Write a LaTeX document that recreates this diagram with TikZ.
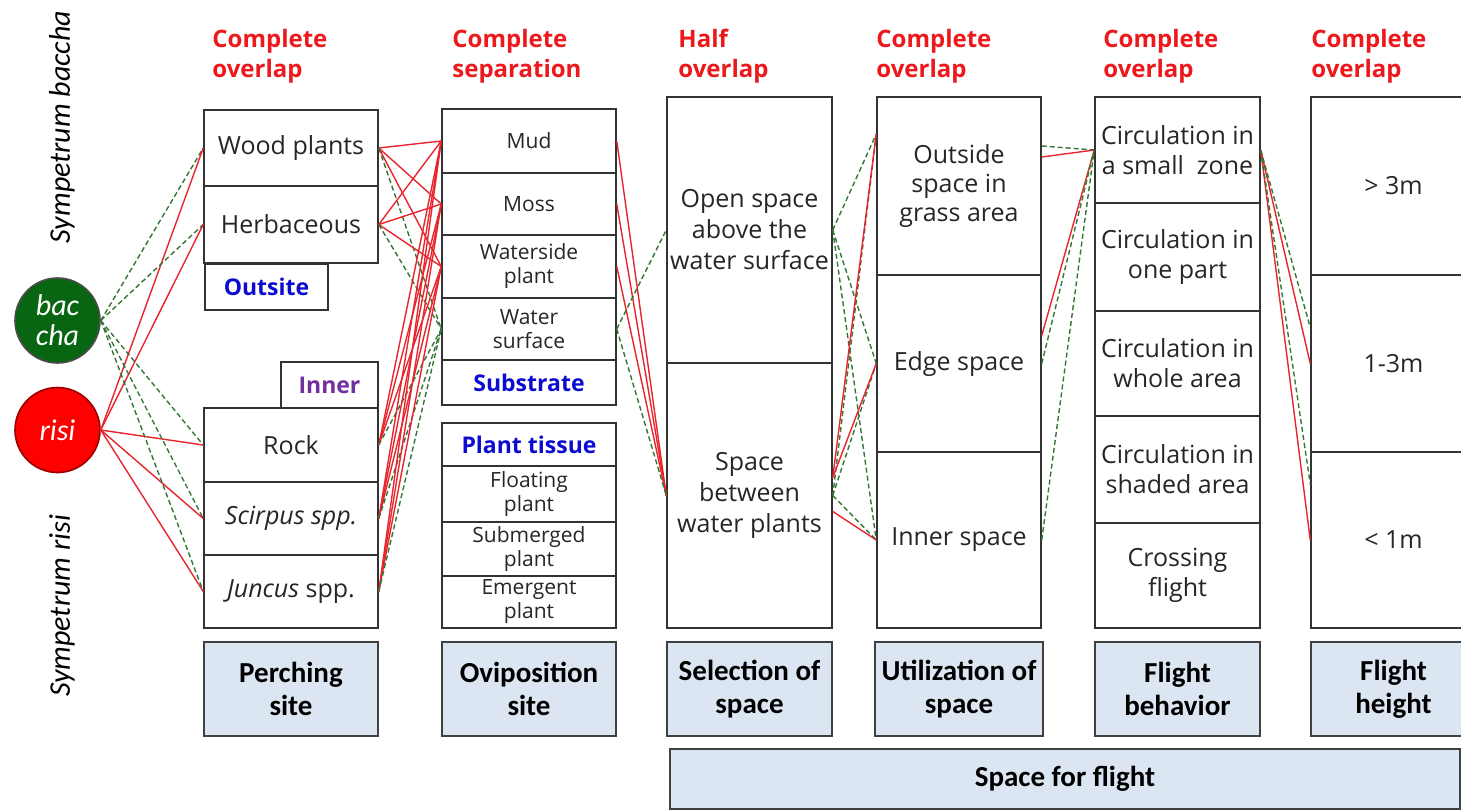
\documentclass[tikz,border=0pt]{standalone}
\usepackage{fontspec}
\setmainfont{Open Sans}
\newfontfamily\calib{Carlito}
\usetikzlibrary{positioning}
\definecolor{risired}{RGB}{232,36,44}
\definecolor{bacgreen}{RGB}{52,118,52}
\definecolor{circgreen}{RGB}{8,102,18}
\definecolor{headred}{RGB}{236,24,28}
\definecolor{labelblue}{RGB}{12,12,208}
\definecolor{innerpurple}{RGB}{112,48,160}
\definecolor{basefill}{RGB}{220,230,242}

\begin{document}
\begin{tikzpicture}[x=0.5pt, y=-0.5pt]
  \tikzstyle{cell}=[draw=black!80, fill=white, line width=0.75pt, inner sep=1pt, align=center, text=black!85, font=\fontsize{12.5}{14.5}\selectfont]
  \tikzstyle{small cell}=[cell, font=\fontsize{10.5}{12}\selectfont]
  \tikzstyle{tag}=[cell, font=\bfseries\fontsize{11.5}{13}\selectfont]
  \tikzstyle{header}=[anchor=north west, inner sep=0pt, align=left, text=headred, font=\bfseries\fontsize{12}{15}\selectfont]
  \tikzstyle{base}=[draw=black!75, fill=basefill, line width=0.75pt, minimum height=47pt, align=center, font=\calib\bfseries\fontsize{14.5}{16.5}\selectfont]
  \tikzstyle{species}=[circle, minimum size=42.5pt, inner sep=0pt, line width=0.8pt, text=white, align=center, font=\calib\itshape\fontsize{15}{15}\selectfont]
  \tikzstyle{species name}=[rotate=90, inner sep=0pt, font=\calib\itshape\fontsize{15}{15}\selectfont]
  \tikzstyle{risilink}=[risired, line width=0.7pt]
  \tikzstyle{bacchalink}=[bacgreen, line width=0.7pt, dash pattern=on 2.5pt off 1.5pt]

  \clip (0,0) rectangle (1461,810);

  % species
  \node[species name] (sp-baccha) at (62,127) {Sympetrum baccha};
  \node[species name] (sp-risi) at (62,606) {Sympetrum risi};
  \node[species, fill=circgreen, draw=black!70] (bc) at (57.5,320.5) {bac\\cha};
  \node[species, fill=red, draw=red!60!black] (rs) at (57.5,430) {risi};

  % headers
  \node[header] (hd-perch) at (212,29) {Complete\\overlap};
  \node[header] (hd-ovi) at (452,29) {Complete\\separation};
  \node[header] (hd-sel) at (678,29) {Half\\overlap};
  \node[header] (hd-util) at (876,29) {Complete\\overlap};
  \node[header] (hd-flight) at (1103,29) {Complete\\overlap};
  \node[header] (hd-height) at (1311,29) {Complete\\overlap};

  % perching site
  \node[cell, minimum width=87pt, minimum height=38pt] (wood) at (291,148) {Wood plants};
  \node[cell, minimum width=87pt, minimum height=38.5pt] (herb) at (291,224.5) {Herbaceous};
  \node[tag, text=labelblue, minimum width=61.5pt, minimum height=23pt] (outsite) at (266.5,287) {Outsite};
  \node[tag, text=innerpurple, minimum width=48.5pt, minimum height=23pt] (inner) at (329.5,385) {Inner};
  \node[cell, minimum width=87pt, minimum height=37pt] (rock) at (291,445) {Rock};
  \node[cell, minimum width=87pt, minimum height=36.5pt] (scirpus) at (291,518.5) {\textit{Scirpus spp.}};
  \node[cell, minimum width=87pt, minimum height=36.5pt] (juncus) at (291,591.5) {\textit{Juncus} spp.};

  % oviposition site
  \node[small cell, minimum width=87pt, minimum height=32pt] (mud) at (529,141) {Mud};
  \node[small cell, minimum width=87pt, minimum height=31pt] (moss) at (529,204) {Moss};
  \node[small cell, minimum width=87pt, minimum height=31.5pt] (waterside) at (529,266.5) {Waterside\\plant};
  \node[small cell, minimum width=87pt, minimum height=31pt] (wsurf) at (529,329) {Water\\surface};
  \node[tag, text=labelblue, minimum width=87pt, minimum height=22.5pt] (substrate) at (529,382.5) {Substrate};
  \node[tag, text=labelblue, minimum width=87pt, minimum height=21.5pt] (tissue) at (529,444.5) {Plant tissue};
  \node[small cell, minimum width=87pt, minimum height=28pt] (floating) at (529,494) {Floating\\plant};
  \node[small cell, minimum width=87pt, minimum height=27pt] (submerged) at (529,549) {Submerged\\plant};
  \node[small cell, minimum width=87pt, minimum height=26pt] (emergent) at (529,602) {Emergent\\plant};

  % selection of space
  \node[cell, font=\fontsize{12.5}{15.5}\selectfont, minimum width=82.5pt, minimum height=133pt] (open) at (749.5,230) {Open space\\above the\\water surface};
  \node[cell, font=\fontsize{12.5}{15.5}\selectfont, minimum width=82.5pt, minimum height=132.5pt] (between) at (749.5,495.5) {Space\\between\\water plants};

  % utilization of space
  \node[cell, minimum width=82pt, minimum height=89pt] (outside) at (959,186) {Outside\\space in\\grass area};
  \node[cell, minimum width=82pt, minimum height=88.5pt] (edge) at (959,363.5) {Edge space};
  \node[cell, minimum width=82pt, minimum height=88pt] (innersp) at (959,540) {Inner space};

  % flight behavior
  \node[cell, font=\fontsize{12.5}{15}\selectfont, minimum width=82.5pt, minimum height=53pt] (small) at (1177.5,150) {Circulation in\\a small\ \ zone};
  \node[cell, font=\fontsize{12.5}{15}\selectfont, minimum width=82.5pt, minimum height=54pt] (onepart) at (1177.5,257) {Circulation in\\one part};
  \node[cell, font=\fontsize{12.5}{15}\selectfont, minimum width=82.5pt, minimum height=52.5pt] (whole) at (1177.5,363.5) {Circulation in\\whole area};
  \node[cell, font=\fontsize{12.5}{15}\selectfont, minimum width=82.5pt, minimum height=53.5pt] (shaded) at (1177.5,469.5) {Circulation in\\shaded area};
  \node[cell, font=\fontsize{12.5}{15}\selectfont, minimum width=82.5pt, minimum height=52.5pt] (crossing) at (1177.5,575.5) {Crossing\\flight};

  % flight height
  \node[cell, minimum width=82.5pt, minimum height=89pt] (h3) at (1393.5,186) {> 3m};
  \node[cell, minimum width=82.5pt, minimum height=88.5pt] (h13) at (1393.5,363.5) {1-3m};
  \node[cell, minimum width=82.5pt, minimum height=88pt] (h1) at (1393.5,540) {< 1m};

  % bottom labels
  \node[base, minimum width=87pt] (b-perch) at (291,689) {Perching\\site};
  \node[base, minimum width=87pt] (b-ovi) at (529,689) {Oviposition\\site};
  \node[base, minimum width=82.5pt] (b-sel) at (749.5,689) {Selection of\\space};
  \node[base, minimum width=82pt] (b-util) at (959,689) {Utilization of\\space};
  \node[base, minimum width=82.5pt] (b-flight) at (1177.5,689) {Flight\\behavior};
  \node[base, minimum width=82.5pt] (b-height) at (1393.5,689) {Flight\\height};
  \node[base, minimum width=395pt, minimum height=30pt] (b-space) at (1065,779) {Space for flight};

  % species -> perching site
  \foreach \dest in {wood,herb,rock,scirpus,juncus}{
    \draw[bacchalink] (bc.east) -- (\dest.west);
    \draw[risilink] (rs.east) -- (\dest.west);
  }

  % perching site -> oviposition site
  \foreach \src in {wood,herb,rock,scirpus,juncus}{
    \foreach \dest in {mud,moss,waterside}
      \draw[risilink] (\src.east) -- (\dest.west);
    \draw[bacchalink] (\src.east) -- (wsurf.west);
  }

  % oviposition site -> selection of space
  \foreach \src in {mud,moss,waterside}
    \draw[risilink] (\src.east) -- (between.west);
  \draw[bacchalink] (wsurf.east) -- (open.west);
  \draw[bacchalink] (wsurf.east) -- (between.west);

  % selection -> utilization of space
  \foreach \src in {open,between}{
    \draw[bacchalink] (\src.east) -- ([yshift=26pt]outside.west);
    \draw[bacchalink] (\src.east) -- (edge.west);
    \draw[bacchalink] (\src.east) -- (innersp.west);
  }
  \draw[risilink] ([yshift=9pt]between.east) -- ([yshift=26pt]outside.west);
  \draw[risilink] ([yshift=9pt]between.east) -- (edge.west);
  \draw[risilink] ([yshift=-8pt]between.east) -- (innersp.west);

  % utilization -> flight behavior
  \draw[bacchalink] ([yshift=20pt]outside.east) -- (small.west);
  \draw[risilink] ([yshift=14.5pt]outside.east) -- (small.west);
  \draw[risilink] ([yshift=14pt]edge.east) -- (small.west);
  \draw[bacchalink] (edge.east) -- (small.west);
  \draw[bacchalink] (innersp.east) -- (small.west);

  % flight behavior -> flight height
  \draw[risilink] (small.east) -- (h13.west);
  \draw[risilink] (small.east) -- (h1.west);
  \draw[bacchalink] (small.east) -- ([yshift=18pt]h13.west);
  \draw[bacchalink] (small.east) -- ([yshift=28pt]h1.west);
\end{tikzpicture}
\end{document}
